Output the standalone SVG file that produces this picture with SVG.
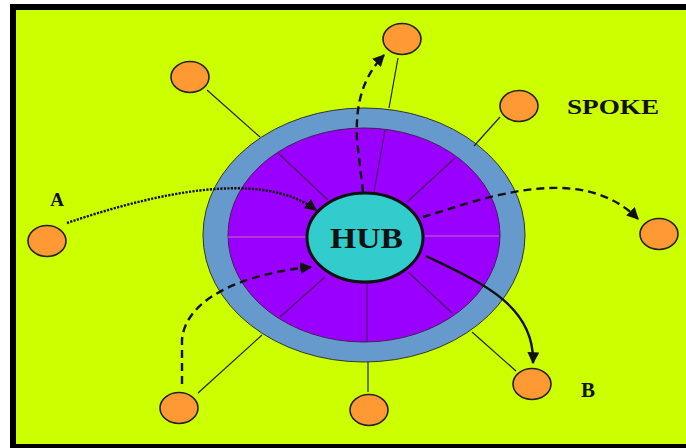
<svg xmlns="http://www.w3.org/2000/svg" width="686" height="448" viewBox="0 0 686 448">
<defs>
<style>
.node{fill:#ff9933;stroke:#222;stroke-width:1.6}
.spoke{stroke:#222;stroke-width:1.2;fill:none}
.inner{stroke:#4a1a5a;stroke-width:1.1;fill:none}
.lbl{font-family:"Liberation Serif","Times New Roman",serif;font-weight:bold;fill:#111}
.flow{fill:none;stroke:#111;stroke-width:2.4}
</style>
<marker id="ah" viewBox="0 0 10 10" refX="9" refY="5" markerWidth="5" markerHeight="5" orient="auto" markerUnits="strokeWidth">
<path d="M0,0 L10,5 L0,10 z" fill="#111"/>
</marker>
<linearGradient id="hl" x1="0" y1="0" x2="1" y2="0">
<stop offset="0" stop-color="#d08040"/>
<stop offset="0.5" stop-color="#50c0c0"/>
<stop offset="1" stop-color="#d08040"/>
</linearGradient>
</defs>
<rect x="0" y="0" width="686" height="448" fill="#ffffff"/>
<rect x="10" y="4" width="676" height="444" fill="#000"/>
<rect x="16" y="10" width="670" height="434" fill="#ccff00"/>

<g id="wheel">
<ellipse cx="364" cy="235" rx="161" ry="127" fill="#6699cc" stroke="#333" stroke-width="1"/>
<ellipse cx="364" cy="235" rx="136" ry="107" fill="#9900ff" stroke="#4a1a5a" stroke-width="1"/>
<g class="inner">
<line x1="278" y1="153" x2="328" y2="200"/>
<line x1="385" y1="130" x2="374" y2="192"/>
<line x1="455" y1="158" x2="407" y2="202"/>
<line x1="425" y1="236" x2="499" y2="236" stroke="#c070c0"/>
<line x1="408" y1="272" x2="452" y2="313"/>
<line x1="367" y1="283" x2="367" y2="342"/>
<line x1="325" y1="277" x2="280" y2="317"/>
<line x1="228" y1="237" x2="306" y2="237" stroke="#c070c0"/>
</g>
</g>

<g id="hub">
<ellipse cx="365" cy="237.5" rx="58" ry="44.5" fill="#33cccc" stroke="#111" stroke-width="3"/>
<text class="lbl" x="366.5" y="248" font-size="30" text-anchor="middle" textLength="73" lengthAdjust="spacingAndGlyphs">HUB</text>
</g>

<g id="spokes">
<line class="spoke" x1="207" y1="90" x2="260" y2="137"/>
<line class="spoke" x1="398" y1="58" x2="389" y2="108"/>
<line class="spoke" x1="500" y1="117" x2="474" y2="146"/>
<line x1="527" y1="234" x2="637" y2="234" stroke="url(#hl)" stroke-width="1.4"/>
<line x1="70" y1="239" x2="203" y2="239" stroke="url(#hl)" stroke-width="1.4"/>
<line class="spoke" x1="198" y1="393" x2="262" y2="335"/>
<line class="spoke" x1="368" y1="362" x2="368" y2="392"/>
<line class="spoke" x1="472" y1="332" x2="516" y2="371"/>
</g>

<g id="node-upper-left"><ellipse class="node" cx="190" cy="77" rx="19" ry="15.5"/></g>
<g id="node-top"><ellipse class="node" cx="402" cy="39" rx="19" ry="15.5"/></g>
<g id="node-upper-right"><ellipse class="node" cx="519" cy="106" rx="19" ry="15.5"/></g>
<g id="node-right"><ellipse class="node" cx="659" cy="234" rx="19" ry="15.5"/></g>
<g id="node-left"><ellipse class="node" cx="47" cy="241" rx="19" ry="15.5"/></g>
<g id="node-bottom-left"><ellipse class="node" cx="179" cy="408" rx="19" ry="15.5"/></g>
<g id="node-bottom"><ellipse class="node" cx="369" cy="410" rx="19" ry="15.5"/></g>
<g id="node-bottom-right"><ellipse class="node" cx="532" cy="384" rx="19" ry="15.5"/></g>

<g id="labels">
<text class="lbl" x="57" y="206" font-size="19" text-anchor="middle">A</text>
<text class="lbl" x="567" y="114" font-size="21" textLength="92" lengthAdjust="spacingAndGlyphs">SPOKE</text>
<text class="lbl" x="588" y="397" font-size="21" text-anchor="middle">B</text>
</g>

<g id="connectors">
<path class="flow" d="M67,223 C150,195 260,168 316,210" stroke-dasharray="2.2,1.3" marker-end="url(#ah)"/>
<path class="flow" d="M363,192 L357,140 C355,100 365,75 384,55" stroke-dasharray="8,5" marker-end="url(#ah)"/>
<path class="flow" d="M423,217 C480,200 580,160 638,219" stroke-dasharray="8,5" marker-end="url(#ah)"/>
<path class="flow" d="M182,384 L182,340 C185,300 240,274 311,267" stroke-dasharray="8,5" marker-end="url(#ah)"/>
<path class="flow" d="M426,256 C480,282 535,305 533,363" stroke-width="2" marker-end="url(#ah)"/>
</g>
</svg>
